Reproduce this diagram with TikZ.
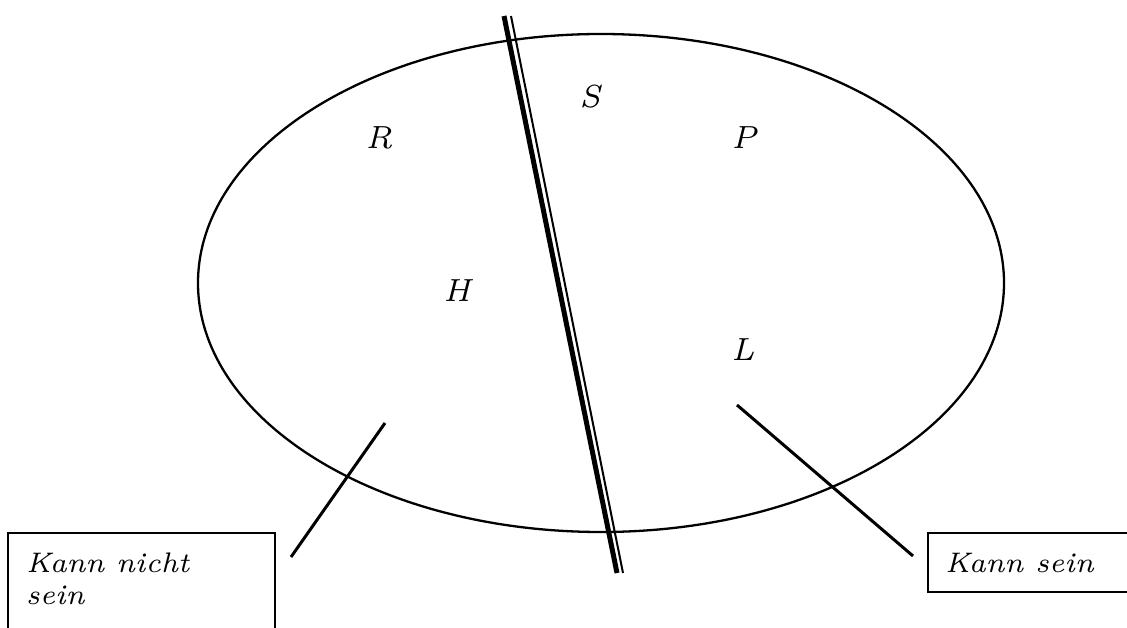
\documentclass[tikz,border=0pt]{standalone}
\usepackage{fontspec}
\setmainfont{lmroman7-regular}[Extension=.otf, ItalicFont=lmroman7-italic]
\begin{document}
\begin{tikzpicture}[x=1pt,y=-1pt,
  lbl/.style={font=\fontsize{32}{38}\selectfont\itshape, inner sep=0pt},
  boxtext/.style={font=\fontsize{28.3}{32}\selectfont\itshape, inner sep=0pt, anchor=base west, align=left},
  conn/.style={line width=3pt},
  boxline/.style={line width=2.5pt}]
\useasboundingbox (0,0) rectangle (1127,628);
% ellipse
\draw[line width=2.3pt] (601,283) ellipse [x radius=403, y radius=249];
% double line
\coordinate (t1) at (504,16); \coordinate (b1) at (617,573);
\coordinate (t2) at (511,16); \coordinate (b2) at (623,573);
\draw[line width=5pt] (t1) -- (b1);
\draw[line width=2pt] (t2) -- (b2);
% labels
\node[lbl] (R) at (379,138) {R};
\node[lbl] (S) at (590,97) {S};
\node[lbl] (P) at (744,138) {P};
\node[lbl] (H) at (457,291) {H};
\node[lbl] (L) at (743,350) {L};
% boxes
\draw[boxline] (8,628) -- (8,533) -- (275,533) -- (275,628);
\draw[boxline] (1127,533) -- (928,533) -- (928,592) -- (1127,592);
\node[boxtext] (kns) at (26,604) {Kann nicht\\sein};
\node[boxtext] (ks) at (945,572) {Kann sein};
% connectors
\coordinate (c1a) at (385,423); \coordinate (c1b) at (291,557);
\coordinate (c2a) at (737,405); \coordinate (c2b) at (913,556);
\draw[conn] (c1a) -- (c1b);
\draw[conn] (c2a) -- (c2b);
\end{tikzpicture}
\end{document}
